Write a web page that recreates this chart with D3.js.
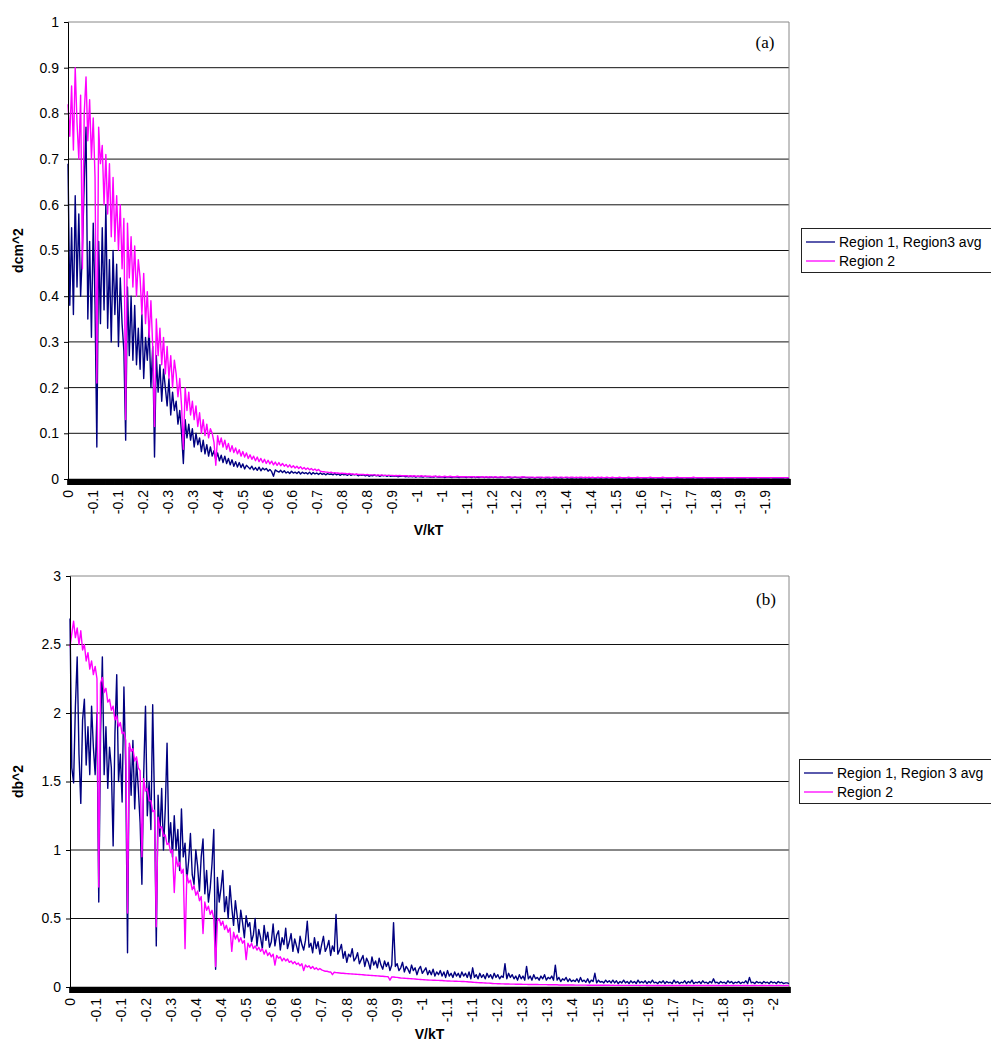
<!DOCTYPE html>
<html>
<head>
<meta charset="utf-8">
<script src="https://cdn.jsdelivr.net/npm/d3@7"></script>
<style>
  body { margin: 0; background: #fff; }
  svg { display: block; font-family: "Liberation Sans", Arial, sans-serif; }
</style>
</head>
<body>
<svg id="chart" width="991" height="1044"></svg>
<script>
// ---- panel (a): dcm^2 vs V/kT ----
const tickLabelsA = ["0","-0.1","-0.1","-0.2","-0.3","-0.3","-0.4","-0.5","-0.6","-0.6",
  "-0.7","-0.8","-0.8","-0.9","-1","-1","-1.1","-1.2","-1.2","-1.3",
  "-1.4","-1.4","-1.5","-1.6","-1.7","-1.7","-1.8","-1.9","-1.9"];
const yTicksA = [0, 0.1, 0.2, 0.3, 0.4, 0.5, 0.6, 0.7, 0.8, 0.9, 1];

// Region 1, Region3 avg
const regionAvgA = [
  .69,.38,.55,.36,.62,.42,.58,.40,.50,.65, .77,.35,.52,.31,.56,.38,.07,.52,.34,.55,
  .37,.60,.33,.48,.30,.50,.36,.47,.29,.44, .34,.28,.085,.42,.27,.40,.26,.38,.25,.33,
  .24,.36,.22,.31,.26,.33,.20,.29,.048,.27, .19,.25,.17,.24,.20,.16,.22,.14,.19,.15,
  .17,.12,.15,.10,.034,.13,.09,.12,.085,.11, .07,.10,.075,.09,.06,.085,.055,.075,.05,.07,
  .05,.062,.042,.057,.04,.052,.036,.05,.034,.045, .031,.042,.028,.038,.026,.036,.025,.033,.022,.03,
  .026,.022,.028,.02,.025,.019,.026,.018,.024,.02, .023,.017,.021,.016,.006,.02,.017,.015,.019,.014,
  .018,.013,.016,.012,.017,.013,.015,.012,.016,.011, .015,.012,.014,.011,.015,.01,.014,.011,.013,.01,
  .013,.01,.012,.009,.012,.01,.011,.009,.012,.009, .011,.008,.011,.009,.01,.008,.011,.008,.01,.009,
  .01,.007,.009,.008,.009,.007,.009,.006,.008,.007, .009,.007,.008,.006,.008,.007,.008,.006,.008,.006,
  .007,.006,.007,.005,.006,.006,.007,.005,.006,.005, .006,.005,.006,.004,.006,.005,.005,.004,.006,.005,
  .005,.004,.005,.004,.006,.004,.005,.004,.005,.003, .004,.005,.004,.003,.005,.004,.004,.003,.005,.004,
  .004,.003,.004,.004,.003,.005,.003,.004,.003,.004, .004,.003,.004,.003,.003,.004,.003,.004,.003,.003,
  .003,.004,.003,.003,.004,.003,.002,.003,.004,.003, .003,.002,.003,.004,.003,.003,.002,.003,.003,.002,
  .003,.003,.002,.003,.003,.002,.003,.002,.003,.003, .002,.003,.002,.003,.002,.003,.003,.002,.003,.002,
  .002,.003,.002,.003,.002,.002,.003,.002,.003,.002, .002,.003,.002,.002,.003,.002,.002,.003,.002,.002,
  .003,.002,.002,.003,.002,.002,.002,.003,.002,.002, .003,.002,.002,.002,.003,.002,.002,.002,.003,.002,
  .002,.002,.003,.002,.002,.002,.003,.002,.002,.002, .002,.003,.002,.002,.002,.002,.003,.002,.002,.002,
  .002,.002,.003,.002,.002,.002,.002,.002,.003,.002, .002,.002,.002,.003,.002,.002,.002,.002,.002,.003,
  .002,.002,.002,.002,.003,.002,.002,.002,.002,.002, .003,.002,.002,.002,.002,.002,.002,.003,.002,.002,
  .002,.002,.002,.003,.002,.002,.002,.002,.002,.002, .003,.002,.002,.002,.002,.002,.002,.002,.003,.002,.002
];

// Region 2
const region2A = [
  .82,.75,.86,.72,.90,.78,.70,.84,.46,.80, .88,.74,.83,.70,.79,.66,.21,.77,.69,.73,
  .60,.71,.58,.69,.53,.66,.52,.62,.50,.60, .46,.57,.13,.56,.44,.53,.42,.51,.40,.48,
  .44,.36,.45,.34,.41,.31,.39,.29,.115,.35, .27,.33,.25,.31,.23,.29,.22,.27,.20,.26,
  .23,.18,.22,.16,.065,.20,.15,.19,.14,.17, .13,.16,.115,.145,.10,.13,.095,.12,.09,.11,
  .10,.08,.03,.095,.075,.09,.07,.085,.065,.078, .06,.073,.058,.068,.055,.064,.05,.06,.048,.057,
  .045,.053,.043,.05,.04,.048,.038,.045,.036,.043, .034,.041,.033,.039,.031,.037,.03,.036,.029,.034,
  .028,.032,.026,.031,.025,.029,.024,.028,.023,.027, .022,.025,.021,.024,.02,.023,.019,.022,.018,.021,
  .017,.016,.016,.015,.015,.014,.015,.013,.014,.013, .013,.012,.013,.012,.012,.011,.012,.011,.011,.01,
  .011,.01,.01,.01,.01,.009,.01,.009,.009,.009, .009,.008,.009,.008,.009,.008,.008,.008,.008,.008,
  .008,.007,.008,.007,.008,.007,.007,.007,.007,.006, .007,.006,.007,.006,.006,.006,.007,.006,.006,.006,
  .006,.006,.005,.006,.006,.005,.006,.005,.005,.006, .005,.005,.006,.005,.005,.005,.006,.005,.005,.005,
  .005,.005,.004,.005,.005,.005,.004,.005,.005,.004, .005,.004,.005,.004,.005,.004,.004,.005,.004,.004,
  .005,.004,.004,.004,.004,.005,.004,.004,.004,.004, .004,.004,.005,.004,.004,.004,.004,.004,.004,.003,
  .004,.004,.004,.004,.003,.004,.004,.004,.003,.004, .004,.004,.003,.004,.004,.003,.004,.004,.003,.004,
  .004,.003,.004,.003,.004,.004,.003,.004,.003,.004, .003,.004,.003,.003,.004,.003,.004,.003,.003,.004,
  .003,.003,.004,.003,.003,.003,.004,.003,.003,.003, .003,.004,.003,.003,.003,.003,.004,.003,.003,.003,
  .003,.003,.003,.004,.003,.003,.003,.003,.003,.003, .004,.003,.003,.003,.003,.003,.003,.003,.004,.003,
  .003,.003,.003,.003,.003,.003,.003,.004,.003,.003, .003,.003,.003,.003,.003,.003,.003,.003,.003,.003,
  .003,.003,.003,.003,.003,.003,.003,.003,.003,.003, .003,.003,.003,.003,.003,.003,.003,.003,.003,.003,
  .003,.003,.003,.003,.003,.003,.003,.003,.003,.003, .003,.003,.003,.003,.003,.003,.003,.003,.003,.003,.003
];

// ---- panel (b): db^2 vs V/kT ----
const tickLabelsB = ["0","-0.1","-0.1","-0.2","-0.3","-0.4","-0.4","-0.5","-0.6","-0.6",
  "-0.7","-0.8","-0.8","-0.9","-1","-1.1","-1.1","-1.2","-1.3","-1.3",
  "-1.4","-1.5","-1.5","-1.6","-1.7","-1.7","-1.8","-1.9","-2"];
const yTicksB = [0, 0.5, 1, 1.5, 2, 2.5, 3];

// Region 1, Region 3 avg
const regionAvgB = [
  2.69,1.60,1.49,2.05,2.41,1.70,1.34,1.95,2.10,1.62, 1.90,1.55,2.05,1.75,1.55,2.00,0.62,1.85,2.41,1.55,
  1.90,1.45,1.75,1.60,1.03,1.85,2.28,1.50,1.70,1.35, 2.19,1.60,0.25,1.75,1.40,1.80,1.30,1.65,1.45,1.20,
  0.75,1.55,2.05,1.25,1.50,1.15,2.06,1.35,0.30,1.40, 1.10,1.45,1.00,1.30,1.78,1.05,1.20,0.95,1.25,1.00,
  1.15,0.85,1.30,0.95,1.05,0.78,0.92,1.12,0.82,0.75, 1.00,0.88,0.70,0.95,1.08,0.68,0.85,0.62,0.72,0.90,
  1.15,0.13,0.80,0.62,0.72,0.85,0.55,0.66,0.50,0.74, 0.58,0.45,0.63,0.52,0.40,0.56,0.47,0.36,0.52,0.44,
  0.47,0.33,0.38,0.50,0.30,0.42,0.36,0.28,0.45,0.34, 0.40,0.29,0.33,0.46,0.30,0.38,0.41,0.27,0.36,0.31,
  0.43,0.28,0.33,0.39,0.26,0.35,0.30,0.25,0.37,0.31, 0.27,0.34,0.48,0.29,0.32,0.25,0.36,0.28,0.33,0.24,
  0.31,0.37,0.26,0.29,0.34,0.23,0.30,0.26,0.53,0.24, 0.27,0.31,0.21,0.26,0.18,0.24,0.22,0.28,0.19,0.21,
  0.25,0.17,0.20,0.23,0.15,0.21,0.18,0.13,0.22,0.16, 0.19,0.14,0.21,0.16,0.13,0.19,0.15,0.18,0.12,0.16,
  0.47,0.15,0.17,0.12,0.14,0.18,0.11,0.15,0.13,0.10, 0.16,0.12,0.14,0.09,0.13,0.15,0.10,0.12,0.14,0.09,
  0.12,0.09,0.13,0.08,0.11,0.09,0.12,0.08,0.11,0.07, 0.12,0.08,0.10,0.07,0.11,0.08,0.10,0.07,0.11,0.08,
  0.10,0.07,0.11,0.06,0.14,0.07,0.09,0.06,0.10,0.07, 0.09,0.06,0.10,0.07,0.09,0.06,0.10,0.07,0.09,0.06,
  0.08,0.07,0.17,0.06,0.10,0.07,0.09,0.06,0.08,0.05, 0.09,0.06,0.08,0.05,0.15,0.06,0.08,0.05,0.09,0.06,
  0.07,0.05,0.08,0.06,0.09,0.05,0.07,0.06,0.08,0.05, 0.16,0.05,0.07,0.04,0.06,0.05,0.07,0.04,0.06,0.04,
  0.05,0.04,0.06,0.035,0.07,0.04,0.05,0.035,0.06,0.03, 0.05,0.04,0.10,0.03,0.05,0.035,0.04,0.03,0.05,0.035,
  0.045,0.03,0.05,0.03,0.045,0.025,0.04,0.03,0.05,0.03, 0.04,0.025,0.045,0.03,0.04,0.025,0.05,0.03,0.04,0.03,
  0.045,0.025,0.04,0.03,0.05,0.03,0.035,0.025,0.04,0.03, 0.045,0.025,0.04,0.03,0.035,0.025,0.05,0.03,0.04,0.025,
  0.035,0.03,0.045,0.025,0.04,0.03,0.05,0.025,0.035,0.03, 0.04,0.025,0.045,0.03,0.035,0.025,0.04,0.03,0.06,0.03,
  0.035,0.025,0.04,0.03,0.035,0.025,0.045,0.03,0.04,0.025, 0.035,0.03,0.04,0.025,0.035,0.03,0.045,0.025,0.07,0.03,
  0.035,0.025,0.04,0.03,0.035,0.025,0.04,0.03,0.035,0.025, 0.04,0.03,0.035,0.025,0.04,0.03,0.035,0.025,0.03,0.03,0.025
];

// Region 2
const region2B = [
  2.48,2.58,2.67,2.55,2.62,2.50,2.60,2.46,2.50,2.38, 2.44,2.32,2.38,2.28,2.34,2.25,0.73,2.22,2.26,2.15,
  2.18,2.08,2.10,2.02,2.05,1.95,1.98,1.90,1.93,1.85, 1.86,1.80,0.54,1.78,1.72,1.74,1.65,1.68,1.60,1.58,
  0.95,1.52,1.43,1.45,1.36,1.36,1.28,1.29,0.44,1.24, 1.16,1.17,1.10,1.11,1.04,1.05,0.98,1.00,0.69,0.95,
  0.88,0.91,0.83,0.86,0.28,0.82,0.76,0.78,0.71,0.74, 0.67,0.70,0.63,0.66,0.39,0.62,0.56,0.59,0.53,0.56,
  0.50,0.15,0.48,0.50,0.45,0.48,0.42,0.45,0.40,0.43, 0.26,0.40,0.35,0.38,0.33,0.36,0.32,0.34,0.20,0.32,
  0.29,0.32,0.28,0.30,0.27,0.29,0.26,0.28,0.24,0.27, 0.23,0.25,0.22,0.24,0.16,0.23,0.21,0.22,0.19,0.21,
  0.19,0.205,0.18,0.19,0.17,0.185,0.165,0.175,0.155,0.17, 0.12,0.16,0.145,0.155,0.135,0.15,0.13,0.14,0.125,0.135,
  0.125,0.12,0.115,0.115,0.11,0.11,0.09,0.108,0.105,0.104, 0.102,0.10,0.10,0.099,0.098,0.097,0.096,0.095,0.094,0.093,
  0.092,0.091,0.09,0.089,0.088,0.087,0.086,0.085,0.084,0.083, 0.082,0.081,0.08,0.079,0.078,0.077,0.076,0.075,0.05,0.074,
  0.073,0.071,0.07,0.068,0.066,0.065,0.064,0.063,0.062,0.061, 0.06,0.059,0.058,0.057,0.056,0.055,0.054,0.053,0.052,0.051,
  0.05,0.05,0.049,0.049,0.048,0.048,0.047,0.047,0.046,0.045, 0.044,0.044,0.043,0.043,0.042,0.042,0.041,0.041,0.04,0.04,
  0.039,0.038,0.037,0.036,0.035,0.034,0.033,0.032,0.031,0.031, 0.03,0.029,0.028,0.028,0.027,0.026,0.025,0.025,0.024,0.024,
  0.023,0.023,0.022,0.022,0.022,0.021,0.021,0.021,0.02,0.02, 0.02,0.02,0.019,0.019,0.019,0.018,0.018,0.018,0.018,0.018,
  0.018,0.017,0.017,0.017,0.017,0.017,0.016,0.016,0.016,0.016, 0.016,0.016,0.015,0.015,0.015,0.015,0.015,0.015,0.015,0.015,
  0.015,0.014,0.014,0.014,0.014,0.014,0.014,0.014,0.013,0.013, 0.013,0.013,0.013,0.013,0.013,0.013,0.013,0.013,0.013,0.013,
  0.013,0.012,0.013,0.012,0.012,0.013,0.012,0.012,0.012,0.012, 0.012,0.012,0.012,0.012,0.012,0.012,0.012,0.011,0.012,0.012,
  0.012,0.011,0.012,0.011,0.012,0.011,0.011,0.012,0.011,0.011, 0.012,0.011,0.011,0.011,0.012,0.011,0.011,0.011,0.011,0.011,
  0.011,0.012,0.011,0.011,0.011,0.011,0.011,0.011,0.011,0.012, 0.011,0.011,0.011,0.011,0.011,0.011,0.011,0.011,0.011,0.011,
  0.011,0.011,0.01,0.011,0.011,0.011,0.011,0.01,0.011,0.011, 0.011,0.011,0.011,0.01,0.011,0.011,0.011,0.011,0.01,0.011,
  0.011,0.011,0.011,0.01,0.011,0.011,0.011,0.011,0.01,0.011, 0.011,0.011,0.01,0.011,0.011,0.011,0.011,0.01,0.011,0.011,0.011
];

const BLUE = "#000080";
const MAGENTA = "#ff00ff";

const svg = d3.select("#chart");

function drawPanel(p) {
  const g = svg.append("g");
  const n = p.series[0].values.length;
  // evenly spaced V/kT categories from 0 down to xEnd
  const cats = d3.range(n).map(i => i * p.xEnd / (n - 1));

  const x = d3.scaleLinear().domain([0, p.xEnd]).range([p.left, p.right]);
  const y = d3.scaleLinear().domain([0, p.yMax]).range([p.bottom, p.top]);

  // gridlines
  g.selectAll(".grid")
    .data(p.yTicks.filter(t => t > 0 && t < p.yMax))
    .join("line")
    .attr("x1", p.left).attr("x2", p.right)
    .attr("y1", d => y(d)).attr("y2", d => y(d))
    .attr("stroke", "#111").attr("stroke-width", 1);

  // plot-area border (top + right)
  g.append("path")
    .attr("d", `M${p.left},${y(p.yMax)}H${p.right}V${p.bottom}`)
    .attr("fill", "none").attr("stroke", "#888").attr("stroke-width", 1);

  // series
  const line = d3.line().x((d, i) => x(cats[i])).y(d => y(d));
  p.series.forEach(s => {
    g.append("path")
      .datum(s.values)
      .attr("d", line)
      .attr("fill", "none")
      .attr("stroke", s.color)
      .attr("stroke-width", 1.4)
      .attr("stroke-linejoin", "round");
  });

  // category tick band (one tick per category, dense enough to merge)
  const band = g.append("g")
    .attr("transform", `translate(0,${p.bottom})`)
    .call(d3.axisBottom(x).tickValues(cats).tickSize(6).tickFormat(""));
  band.select(".domain").attr("stroke", "#000").attr("stroke-width", 1.5);
  band.selectAll(".tick line").attr("stroke", "#000").attr("stroke-width", 2.6);

  // category labels, rotated
  const labelPos = p.tickLabels.map((_, i) => i * p.labelStep);
  const xl = g.append("g")
    .attr("transform", `translate(0,${p.bottom})`)
    .call(d3.axisBottom(x).tickValues(labelPos).tickSize(0)
      .tickFormat((d, i) => p.tickLabels[i]));
  xl.select(".domain").remove();
  xl.selectAll("text")
    .attr("transform", "rotate(-90)")
    .attr("x", -11).attr("y", 0).attr("dy", "0.35em")
    .attr("text-anchor", "end")
    .attr("font-size", 14).attr("font-family", "Liberation Sans, Arial, sans-serif")
    .attr("fill", "#000");

  // y axis
  const ya = g.append("g")
    .attr("transform", `translate(${p.left},0)`)
    .call(d3.axisLeft(y).tickValues(p.yTicks).tickSize(4).tickPadding(5)
      .tickFormat(d3.format("~g")));
  ya.select(".domain").attr("stroke", "#000");
  ya.selectAll(".tick line").attr("stroke", "#000");
  ya.selectAll("text")
    .attr("font-size", 14).attr("font-family", "Liberation Sans, Arial, sans-serif")
    .attr("fill", "#000");

  // axis titles
  g.append("text")
    .attr("x", (p.left + p.right) / 2).attr("y", p.bottom + p.xTitleOffset)
    .attr("text-anchor", "middle").attr("font-weight", "bold").attr("font-size", 14)
    .text("V/kT");
  g.append("text")
    .attr("transform", `translate(23,${(p.top + p.bottom) / 2}) rotate(-90)`)
    .attr("text-anchor", "middle").attr("font-weight", "bold").attr("font-size", 14)
    .text(p.yTitle);

  // panel tag
  g.append("text")
    .attr("x", p.tag.x).attr("y", p.tag.y)
    .attr("text-anchor", "middle")
    .attr("font-family", "Liberation Serif, Times New Roman, serif")
    .attr("font-size", 17)
    .text(p.tag.text);

  // legend
  const lg = g.append("g").attr("transform", `translate(${p.legend.x},${p.legend.y})`);
  lg.append("rect")
    .attr("x", 0.5).attr("y", 0.5).attr("width", 220).attr("height", p.legend.h)
    .attr("fill", "#fff").attr("stroke", "#222");
  p.series.forEach((s, i) => {
    const ly = p.legend.row0 + i * p.legend.rowGap;
    lg.append("line")
      .attr("x1", 5).attr("x2", 34).attr("y1", ly).attr("y2", ly)
      .attr("stroke", s.color).attr("stroke-width", 1.3);
    lg.append("text")
      .attr("x", 38).attr("y", ly).attr("dy", "0.36em")
      .attr("font-size", 14)
      .text(s.name);
  });
}

drawPanel({
  left: 68, right: 789, top: 22, bottom: 479,
  xEnd: -1.996, labelStep: -0.0689,
  yMax: 1, yTicks: yTicksA, tickLabels: tickLabelsA,
  yTitle: "dcm^2", xTitleOffset: 56,
  tag: { text: "(a)", x: 765, y: 48 },
  legend: { x: 801, y: 228, h: 44, row0: 14, rowGap: 19 },
  series: [
    { name: "Region 1, Region3 avg", values: regionAvgA, color: BLUE },
    { name: "Region 2", values: region2A, color: MAGENTA }
  ]
});

drawPanel({
  left: 70, right: 789, top: 576, bottom: 987,
  xEnd: -2.005, labelStep: -0.0700,
  yMax: 3, yTicks: yTicksB, tickLabels: tickLabelsB,
  yTitle: "db^2", xTitleOffset: 52,
  tag: { text: "(b)", x: 766, y: 605 },
  legend: { x: 799, y: 759, h: 44, row0: 14, rowGap: 19 },
  series: [
    { name: "Region 1, Region 3 avg", values: regionAvgB, color: BLUE },
    { name: "Region 2", values: region2B, color: MAGENTA }
  ]
});
</script>
</body>
</html>
